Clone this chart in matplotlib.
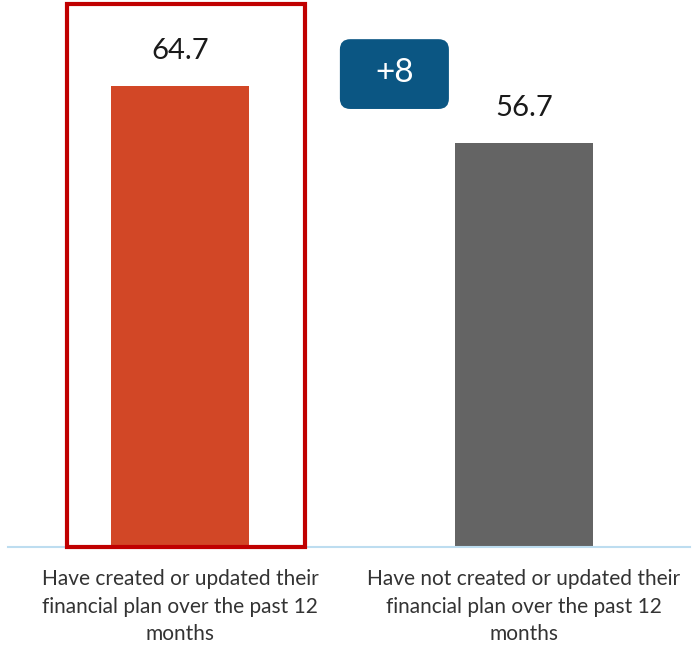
import numpy as np
import matplotlib.pyplot as plt
from matplotlib.patches import FancyBboxPatch, Rectangle

# Chart data
categories = ["Have created or updated their\nfinancial plan over the past 12\nmonths",
              "Have not created or updated their\nfinancial plan over the past 12\nmonths"]
values = [64.7, 56.7]
bar_colors = ["#D24726", "#646464"]
diff_label = "+8"

plt.rcParams['font.family'] = ['Lato', 'DejaVu Sans']

fig = plt.figure(figsize=(6.92, 6.49), dpi=100)
ax = fig.add_axes([8 / 692, 102 / 649, 682 / 692, 547 / 649])

x = np.arange(len(values))
ax.bar(x, values, width=0.401, color=bar_colors, zorder=2)

ax.set_xlim(-0.5, 1.483)
ax.set_ylim(0, 76.8)

for xi, v in zip(x, values):
    ax.annotate(f"{v}", (xi, v), xytext=(0, 25), textcoords="offset points",
                ha="center", va="center", fontsize=21, color="#1a1a1a")

for xi, lab in zip(x, categories):
    ax.annotate(lab, (xi, 0), xytext=(0, -16), textcoords="offset points",
                ha="center", va="top", fontsize=15, color="#333333",
                linespacing=1.46, annotation_clip=False)

# highlight box around the first bar
ax.add_patch(Rectangle((-0.328, 0), 0.691, 76.2, fill=False,
                       edgecolor="#C00000", linewidth=3, zorder=3, clip_on=False))

# difference badge
ax.add_patch(FancyBboxPatch((0.465, 61.5), 0.317, 9.8,
                            boxstyle="round,pad=0,rounding_size=0.03",
                            mutation_aspect=48.3,
                            facecolor="#0B5683", edgecolor="none", zorder=3))
ax.text(0.6235, 66.5, diff_label, ha="center", va="center", fontsize=24,
        color="white", zorder=4)

for s in ["top", "right", "left"]:
    ax.spines[s].set_visible(False)
ax.spines["bottom"].set_color("#BDDDF0")
ax.spines["bottom"].set_linewidth(1.5)
ax.set_xticks([])
ax.set_yticks([])

fig.savefig("out.png", dpi=100)
